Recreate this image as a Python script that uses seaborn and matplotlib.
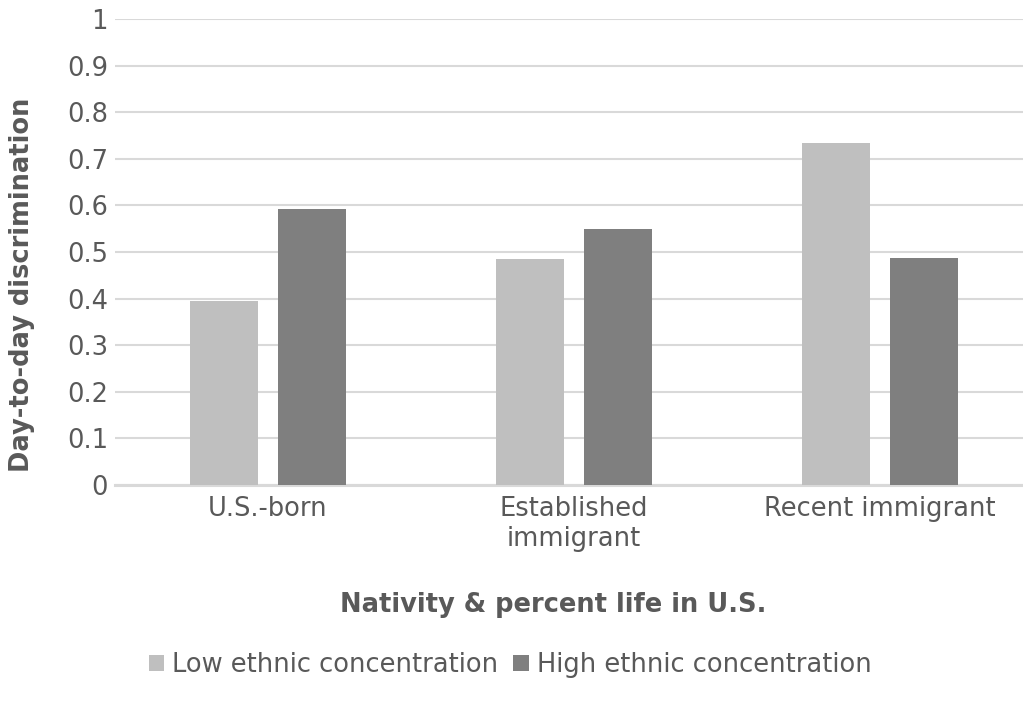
import matplotlib
matplotlib.use("Agg")
import matplotlib.pyplot as plt
import seaborn as sns
import pandas as pd

categories = ["U.S.-born", "Established\nimmigrant", "Recent immigrant"]
series_names = ["Low ethnic concentration", "High ethnic concentration"]
low_values = [0.395, 0.485, 0.734]
high_values = [0.592, 0.549, 0.487]
y_ticks = [0, 0.1, 0.2, 0.3, 0.4, 0.5, 0.6, 0.7, 0.8, 0.9, 1]
y_tick_labels = ["0", "0.1", "0.2", "0.3", "0.4", "0.5", "0.6", "0.7", "0.8", "0.9", "1"]

df = pd.DataFrame({
    "category": categories * 2,
    "series": [series_names[0]] * 3 + [series_names[1]] * 3,
    "value": low_values + high_values,
})

sns.set_theme(style="white")
plt.rcParams['font.family'] = ['DejaVu Sans']
text_color = "#595959"
fs = 18.5

fig = plt.figure(figsize=(10.23, 7.13), dpi=100)
W, H = 1023, 713
ax = fig.add_axes([115 / W, 1 - 485 / H, 918 / W, 466 / H])

sns.barplot(data=df, x="category", y="value", hue="series", order=categories,
            hue_order=series_names, palette=["#bfbfbf", "#7f7f7f"],
            width=0.575, gap=0.22, linewidth=0, ax=ax, errorbar=None)

ax.set_ylim(0, 1)
ax.set_xlim(-0.5, 2.5)
ax.set_yticks(y_ticks)
ax.set_yticklabels(y_tick_labels)
ax.yaxis.grid(True, color="#d9d9d9", linewidth=1.5)
ax.set_axisbelow(True)
for s in ["top", "right", "left"]:
    ax.spines[s].set_visible(False)
ax.spines["bottom"].set_color("#d9d9d9")
ax.spines["bottom"].set_linewidth(2.2)
ax.spines["bottom"].set_zorder(0.5)
ax.tick_params(axis="both", length=0, labelsize=fs, labelcolor=text_color)
ax.tick_params(axis="x", pad=8)
ax.tick_params(axis="y", pad=5)
ax.set_xlabel("")
ax.set_ylabel("")

handles, labels = ax.get_legend_handles_labels()
if ax.get_legend() is not None:
    ax.get_legend().remove()

fig.text(553 / W, 1 - 605 / H, "Nativity & percent life in U.S.", ha="center", va="center",
         fontsize=fs, fontweight="bold", color=text_color)
fig.text(22 / W, 1 - 285 / H, "Day-to-day discrimination", ha="center", va="center",
         rotation=90, fontsize=fs, fontweight="bold", color=text_color)

fig.legend(handles, labels, loc="center", bbox_to_anchor=(510 / W, 1 - 665 / H), ncol=2,
           frameon=False, fontsize=fs, labelcolor=text_color, handlelength=0.6,
           handleheight=0.6, handletextpad=0.3, columnspacing=0.6)

fig.savefig("out.png", dpi=100)
